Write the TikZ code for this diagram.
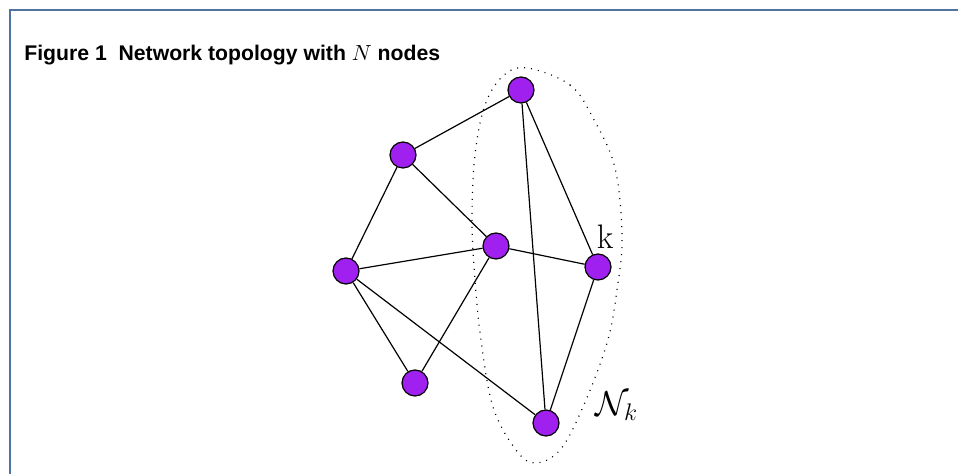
\documentclass[tikz,border=0pt]{standalone}
\usepackage{fontspec}
\newfontfamily\titlefont{Liberation Sans}
\definecolor{nodepurple}{RGB}{160,32,240}
\definecolor{framecol}{RGB}{80,115,160}
\begin{document}
\begin{tikzpicture}[x=0.5pt,y=-0.5pt,
  vertex/.style={circle,draw=black,fill=nodepurple,line width=0.6pt,minimum size=13pt,inner sep=0pt},
  edge/.style={line width=0.6pt},
  framestyle/.style={draw=framecol,line width=0.9pt},
  nbhd/.style={line width=0.6pt,dash pattern=on 0.5pt off 3pt},
  biglabel/.style={font=\fontsize{17}{20}\selectfont,inner sep=0pt}
]
\useasboundingbox (0,0) rectangle (958,474);
\fill[white] (0,0) rectangle (958,474);
\draw[framestyle] (10,474) -- (10,10) -- (958,10);
\node[anchor=base west,inner sep=0pt,font=\titlefont\bfseries\fontsize{10.6}{12}\selectfont] (title) at (24,61) {Figure 1\ \ Network topology with $N$ nodes};

\draw[nbhd] plot[smooth cycle,tension=0.6] coordinates {
 (527,68) (570,85) (593,118) (615,168) (622,237) (617,290) (607,343)
 (583,407) (560,450) (535,463) (516,450) (493,407) (481,340) (475,280)
 (472,220) (475,155) (485,105) (503,76)};

\node[vertex] (top) at (521,90) {};
\node[vertex] (ul) at (403,155) {};
\node[vertex] (c) at (496,246) {};
\node[vertex] (k) at (598,267) {};
\node[vertex] (l) at (346,271) {};
\node[vertex] (bl) at (415,383) {};
\node[vertex] (b) at (546,423) {};

\draw[edge] (top) -- (ul);
\draw[edge] (top) -- (k);
\draw[edge] (top) -- (b);
\draw[edge] (ul) -- (l);
\draw[edge] (ul) -- (c);
\draw[edge] (l) -- (c);
\draw[edge] (l) -- (bl);
\draw[edge] (l) -- (b);
\draw[edge] (c) -- (bl);
\draw[edge] (c) -- (k);
\draw[edge] (k) -- (b);

\node[biglabel] (klabel) at (605,237) {k};
\node[biglabel,font=\fontsize{18.5}{22}\selectfont] (nk) at (617,406) {$\mathcal{N}_k$};
\end{tikzpicture}
\end{document}
